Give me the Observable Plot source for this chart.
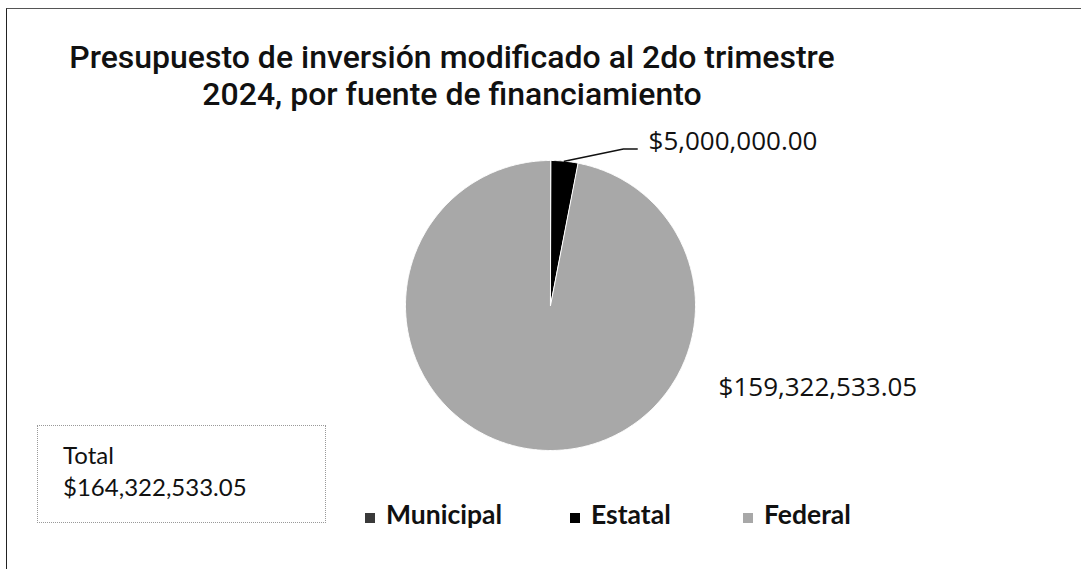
<!DOCTYPE html>
<html>
<head>
<meta charset="utf-8">
<script src="https://cdn.jsdelivr.net/npm/d3@7"></script>
<script src="https://cdn.jsdelivr.net/npm/@observablehq/plot@0.6"></script>
<style>
  html, body { margin: 0; padding: 0; background: #fff; }
  #wrap { position: relative; width: 1081px; height: 569px; overflow: hidden; background: #fff; }
  #frame { position: absolute; left: 6px; top: 8px; width: 1100px; height: 600px;
           border-left: 1.5px solid #222; border-top: 1.5px solid #555; }
  #chart { position: absolute; left: 0; top: 0; }
  #title { position: absolute; left: 52px; top: 39px; width: 800px; text-align: center;
           font-family: Roboto, sans-serif; font-weight: 500; font-size: 30px; line-height: 37px; color: #111; }
  #total { position: absolute; left: 37px; top: 425px; width: 262px; height: 96px; padding-left: 25px;
           border: 1px dotted #999; box-sizing: content-box;
           font-family: Lato, sans-serif; font-size: 24px; line-height: 32px; color: #111; }
  #total .inner { position: absolute; left: 25px; top: 13px; }
  .leg { position: absolute; top: 501px; font-family: Lato, sans-serif; font-weight: 700;
         font-size: 26.5px; line-height: 26px; color: #111; white-space: nowrap; }
  .leg .sw { position: absolute; top: 12px; width: 10px; height: 10px; }
  .leg .tx { position: absolute; top: 0; }
</style>
</head>
<body>
<div id="wrap">
  <div id="frame"></div>
  <div id="chart"></div>
  <div id="title"></div>
  <div id="total"><div class="inner"></div></div>
</div>
<script>
// ---- data ----
const categories = ["Municipal", "Estatal", "Federal"];
const amounts = [0, 5000000.00, 159322533.05];
const colors = ["#3a3a3a", "#000000", "#a8a8a8"];
const titleLines = ["Presupuesto de inversión modificado al 2do trimestre", "2024, por fuente de financiamiento"];
const totalText = "Total";

// ---- layout (pixels / radius units) ----
const W = 1081, H = 569, CX = 550, CY = 305, R = 145;
const labelPos = { Estatal: [0.676, 1.131], Federal: [1.159, -0.569] };
const leaderPts = { Estatal: [[0.503, 1.08], [0.598, 1.08]] };
const legendX = [365, 570, 743];
const titleWidth = 776;

const fmt = d3.format("$,.2f");
const rows = categories.map((c, i) => ({ name: c, value: amounts[i] }));
const arcs = d3.pie().sort(null).value(d => d.value).startAngle(0).endAngle(2 * Math.PI)(rows);

// slice polygons (unit radius, y up)
const slicePts = [];
for (const a of arcs) {
  if (a.endAngle - a.startAngle <= 0) continue;
  const n = Math.max(2, Math.ceil((a.endAngle - a.startAngle) / (Math.PI / 360)));
  slicePts.push({ name: a.data.name, x: 0, y: 0 });
  for (let k = 0; k <= n; k++) {
    const t = a.startAngle + (a.endAngle - a.startAngle) * k / n;
    slicePts.push({ name: a.data.name, x: Math.sin(t), y: Math.cos(t) });
  }
}

// labels and leaders
const labelRows = arcs.filter(a => a.data.value > 0).map(a => ({
  name: a.data.name, text: fmt(a.data.value), x: labelPos[a.data.name][0], y: labelPos[a.data.name][1]
}));
const leaderRows = [];
for (const a of arcs) {
  const lp = leaderPts[a.data.name];
  if (!lp || a.data.value <= 0) continue;
  const m = (a.startAngle + a.endAngle) / 2;
  leaderRows.push({ name: a.data.name, x: Math.sin(m), y: Math.cos(m) });
  for (const p of lp) leaderRows.push({ name: a.data.name, x: p[0], y: p[1] });
}

const chart = Plot.plot({
  width: W, height: H, margin: 0,
  x: { domain: [-CX / R, (W - CX) / R], axis: null },
  y: { domain: [-(H - CY) / R, CY / R], axis: null },
  color: { domain: categories, range: colors },
  style: { background: "transparent" },
  marks: [
    Plot.line(slicePts, { x: "x", y: "y", z: "name", fill: "name", stroke: "white", strokeWidth: 1, curve: "linear-closed" }),
    Plot.line(leaderRows, { x: "x", y: "y", z: "name", stroke: "#111", strokeWidth: 1.5 }),
    Plot.text(labelRows, { x: "x", y: "y", text: "text", textAnchor: "start", fontSize: 26,
      fontFamily: "Open Sans", fill: "#111" })
  ]
});
document.getElementById("chart").appendChild(chart);

// title (fit first line to target width)
const titleEl = document.getElementById("title");
const ctx = document.createElement("canvas").getContext("2d");
ctx.font = "500 30px Roboto";
const w30 = ctx.measureText(titleLines[0]).width;
const fs = Math.min(32, 30 * titleWidth / w30);
titleEl.style.fontSize = fs.toFixed(2) + "px";
titleEl.innerHTML = titleLines.join("<br>");

// total box
document.querySelector("#total .inner").innerHTML = totalText + "<br>" + fmt(d3.sum(amounts));

// legend
const wrap = document.getElementById("wrap");
categories.forEach((c, i) => {
  const d = document.createElement("div");
  d.className = "leg";
  d.style.left = legendX[i] + "px";
  d.innerHTML = `<div class="sw" style="left:0;background:${colors[i]}"></div><div class="tx" style="left:21px">${c}</div>`;
  wrap.appendChild(d);
});
</script>
</body>
</html>
